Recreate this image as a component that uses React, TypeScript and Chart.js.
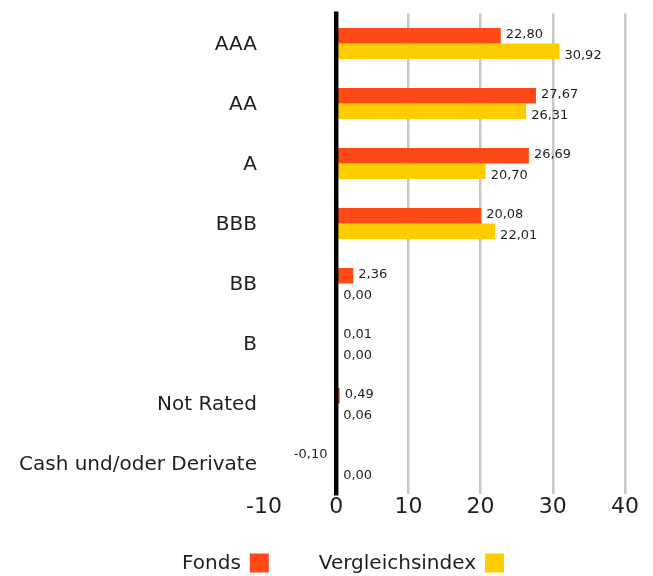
import React, { useEffect, useRef } from "react";
import { Chart, registerables } from "chart.js";

Chart.register(...registerables);

const categories = ["AAA", "AA", "A", "BBB", "BB", "B", "Not Rated", "Cash und/oder Derivate"];
const fondsValues = [22.8, 27.67, 26.69, 20.08, 2.36, 0.01, 0.49, -0.1];
const indexValues = [30.92, 26.31, 20.7, 22.01, 0.0, 0.0, 0.06, 0.0];
const seriesNames = ["Fonds", "Vergleichsindex"];
const seriesColors = ["#ff4a17", "#ffcc00"];
const xMin = -10;
const xMax = 40;
const xStep = 10;

const FONT = "'DejaVu Sans', sans-serif";
const TEXT = "#1f1f1f";

const fmt = (v: number) => v.toFixed(2).replace(".", ",");

const labelPlugin = {
  id: "barLabels",
  afterDatasetsDraw(chart: any) {
    const ctx = chart.ctx;
    const xs = chart.scales.x;
    const area = chart.chartArea;
    const zero = xs.getPixelForValue(0);
    ctx.save();
    // zero line drawn over the bars
    ctx.fillStyle = "#000";
    ctx.fillRect(zero - 2.25, area.top - 2, 4.5, area.bottom - area.top + 4);
    ctx.font = `13px ${FONT}`;
    ctx.fillStyle = TEXT;
    ctx.textBaseline = "middle";
    chart.data.datasets.forEach((ds: any, di: number) => {
      const meta = chart.getDatasetMeta(di);
      meta.data.forEach((bar: any, i: number) => {
        const v = ds.data[i];
        const dy = di === 0 ? -1.5 : 4.5;
        if (v < 0) {
          ctx.textAlign = "right";
          ctx.fillText(fmt(v), bar.x - 8, bar.y + dy);
        } else {
          ctx.textAlign = "left";
          ctx.fillText(fmt(v), Math.max(bar.x, zero + 2) + 5, bar.y + dy);
        }
      });
    });
    ctx.restore();
  },
};

const legendPlugin = {
  id: "customLegend",
  afterDraw(chart: any) {
    const ctx = chart.ctx;
    ctx.save();
    ctx.font = `20px ${FONT}`;
    ctx.textBaseline = "middle";
    ctx.textAlign = "left";
    const box = 19;
    const gapText = 9;
    const gapItem = 50;
    const widths = seriesNames.map((n) => ctx.measureText(n).width);
    const total = widths.reduce((a, w) => a + w + gapText + box, 0) + gapItem * (seriesNames.length - 1);
    let x = 343 - total / 2;
    const y = 563;
    seriesNames.forEach((n, i) => {
      ctx.fillStyle = TEXT;
      ctx.fillText(n, x, y + 1);
      x += widths[i] + gapText;
      ctx.fillStyle = seriesColors[i];
      ctx.fillRect(x, y - box / 2, box, box);
      x += box + gapItem;
    });
    ctx.restore();
  },
};

export default function App() {
  const ref = useRef<HTMLCanvasElement | null>(null);
  useEffect(() => {
    if (!ref.current) return;
    const chart = new Chart(ref.current, {
      type: "bar",
      data: {
        labels: categories,
        datasets: [
          { label: seriesNames[0], data: fondsValues, backgroundColor: seriesColors[0], barPercentage: 1, categoryPercentage: 0.517 },
          { label: seriesNames[1], data: indexValues, backgroundColor: seriesColors[1], barPercentage: 1, categoryPercentage: 0.517 },
        ],
      },
      options: {
        indexAxis: "y",
        responsive: false,
        animation: false,
        layout: { padding: { top: 13.5, right: 28, bottom: 57.5, left: 0 } },
        plugins: { legend: { display: false }, tooltip: { enabled: false } },
        scales: {
          x: {
            min: xMin,
            max: xMax,
            ticks: { stepSize: xStep, color: TEXT, font: { family: FONT, size: 22 }, padding: 1 },
            grid: {
              drawTicks: false,
              color: (c: any) => (c.tick && (c.tick.value === 0 || c.tick.value === xMin) ? "rgba(0,0,0,0)" : "#c6c6c6"),
              lineWidth: 2.5,
            },
            border: { display: false },
            afterFit: (s: any) => { s.height = 25; },
          },
          y: {
            ticks: { color: TEXT, font: { family: FONT, size: 20 }, padding: 7, labelOffset: 1.5 },
            grid: { display: false, drawTicks: false },
            border: { display: false },
            afterFit: (s: any) => { s.width = 264; s.paddingTop = 0; s.paddingBottom = 0; },
          },
        },
      },
      plugins: [labelPlugin, legendPlugin],
    });
    return () => chart.destroy();
  }, []);
  return (
    <div style={{ position: "absolute", left: 0, top: 0, width: 653, height: 576, background: "#fff" }}>
      <canvas ref={ref} width={653} height={576} style={{ display: "block" }} />
    </div>
  );
}
